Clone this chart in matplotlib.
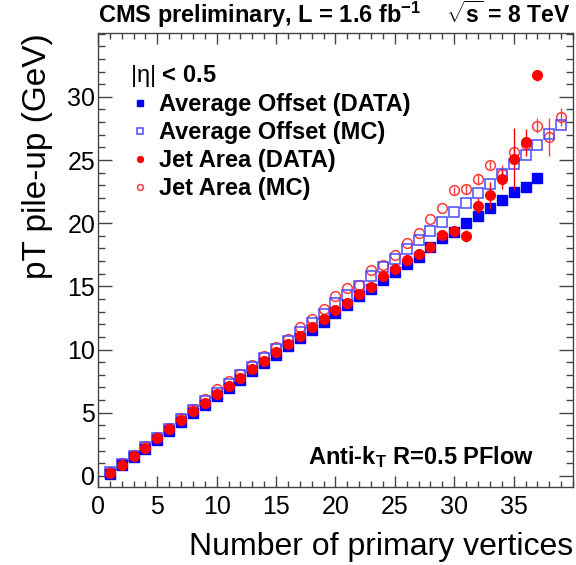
import numpy as np
import matplotlib
matplotlib.use("Agg")
import matplotlib.pyplot as plt
from matplotlib.ticker import MultipleLocator

plt.rcParams['font.family'] = ['Liberation Sans', 'DejaVu Sans']
plt.rcParams['mathtext.fontset'] = 'custom'
plt.rcParams['mathtext.rm'] = 'Liberation Sans'
plt.rcParams['mathtext.bf'] = 'Liberation Sans:bold'
plt.rcParams['mathtext.it'] = 'Liberation Sans:italic'

# number of primary vertices
npv = np.arange(1, 40)

# average offset, data (stops at 37 vertices)
offset_data = [0.15, 0.85, 1.5, 2.15, 2.85, 3.55, 4.3, 5.0, 5.65, 6.3,
               6.95, 7.6, 8.3, 8.95, 9.6, 10.25, 10.9, 11.55, 12.2, 12.9,
               13.5, 14.2, 14.8, 15.5, 16.1, 16.8, 17.35, 18.1, 18.8, 19.3,
               20.0, 20.6, 21.2, 21.8, 22.5, 22.9, 23.6]
# average offset, MC
offset_mc = [0.3, 0.95, 1.6, 2.3, 3.0, 3.75, 4.5, 5.2, 5.9, 6.6,
             7.3, 7.95, 8.65, 9.35, 10.05, 10.7, 11.4, 12.1, 12.85, 13.65,
             14.3, 15.05, 15.8, 16.55, 17.2, 17.95, 18.7, 19.4, 20.1, 20.9,
             21.6, 22.4, 23.1, 23.9, 24.65, 25.4, 26.2, 27.05, 27.8]
# jet area, data
area_data = [0.25, 0.9, 1.56, 2.25, 2.98, 3.7, 4.41, 5.12, 5.78, 6.45,
             7.1, 7.76, 8.45, 9.1, 9.77, 10.43, 11.06, 11.75, 12.4, 13.1,
             13.7, 14.36, 14.97, 15.8, 16.34, 17.08, 17.55, 18.1, 19.1, 19.4,
             19.0, 21.4, 22.2, 23.5, 25.1, 26.4, 31.7]
area_data_err = [0]*29 + [0.25, 0.45, 0.6, 1.05, 0.8, 2.4, 1.05, 0.45]
# jet area, MC
area_mc = [0.35, 1.0, 1.65, 2.35, 3.05, 3.8, 4.55, 5.3, 6.05, 6.85,
           7.5, 8.1, 8.75, 9.5, 10.2, 10.8, 11.75, 12.4, 13.2, 14.2,
           14.9, 15.1, 16.3, 16.7, 17.5, 18.45, 19.25, 20.3, 21.2, 22.6,
           22.7, 23.5, 24.6, 23.9, 25.65, 26.3, 27.7, 26.8, 28.4]
area_mc_err = [0]*29 + [0.3, 0.4, 0.5, 0.3, 0.7, 0.3, 0.3, 0.6, 1.5, 0.7]

fig = plt.figure(figsize=(5.76, 5.65), dpi=100)
ax = fig.add_axes([0.1701, 0.1386, 0.8247, 0.8030])

ms = 7
e_mc = ax.errorbar(npv[:len(area_mc)], area_mc, yerr=area_mc_err, fmt='o',
                   ms=ms, mfc='none', mec='#ff3b3b', mew=1.1,
                   ecolor='#ff3b3b', elinewidth=1, capsize=0, zorder=3)
p_omc, = ax.plot(npv[:len(offset_mc)], offset_mc, 's', ms=ms, mfc='none',
                 mec='#4a4aff', mew=1.1, zorder=4)
p_odata, = ax.plot(npv[:len(offset_data)], offset_data, 's', ms=ms,
                   color='blue', zorder=5)
e_data = ax.errorbar(npv[:len(area_data)], area_data, yerr=area_data_err,
                     fmt='o', ms=ms, color='red', ecolor='red', elinewidth=1,
                     capsize=0, zorder=6)

ax.set_xlim(0, 40)
ax.set_ylim(-0.85, 35.05)
ax.xaxis.set_minor_locator(MultipleLocator(1))
ax.yaxis.set_minor_locator(MultipleLocator(1))
ax.set_yticks(np.arange(0, 35, 5))
ax.set_xticks(np.arange(0, 40, 5))

ax.tick_params(axis='both', which='both', direction='in', top=True,
               right=True, color='#444444', width=1)
ax.tick_params(axis='x', which='major', length=8, labelsize=18, pad=6)
ax.tick_params(axis='x', which='minor', length=4)
ax.tick_params(axis='y', which='major', length=10, labelsize=18, pad=2)
ax.tick_params(axis='y', which='minor', length=5)
for s in ax.spines.values():
    s.set_color('#444444')
    s.set_linewidth(1)

ax.set_xlabel('Number of primary vertices', fontsize=23, loc='right',
              labelpad=9)
ax.set_ylabel('pT pile-up (GeV)', fontsize=24, loc='top', labelpad=10)

ax.text(0.0, 1.022, r'CMS preliminary, L = 1.6 fb$^{\mathbf{-1}}$',
        transform=ax.transAxes, fontsize=17, fontweight='bold',
        ha='left', va='baseline')
ax.text(0.994, 1.022, r'$\mathbf{\sqrt{s}}$ = 8 TeV',
        transform=ax.transAxes, fontsize=16.5, fontweight='bold',
        ha='right', va='baseline')
ax.text(0.067, 0.905, r'$\mathrm{|η|}$ < 0.5', transform=ax.transAxes,
        fontsize=17, fontweight='bold', ha='left', va='center')
ax.text(0.443, 0.066, r'Anti-k$_\mathbf{T}$ R=0.5 PFlow',
        transform=ax.transAxes, fontsize=17, fontweight='bold',
        ha='left', va='center')

hs = [p_odata, p_omc, e_data[0], e_mc[0]]
labels = ['Average Offset (DATA)', 'Average Offset (MC)', 'Jet Area (DATA)',
          'Jet Area (MC)']
leg = ax.legend(hs, labels, loc='upper left', bbox_to_anchor=(0.072, 0.868),
                frameon=False, fontsize=17, markerscale=0.6,
                handlelength=0.7, handletextpad=0.45, borderpad=0,
                labelspacing=0.22, borderaxespad=0)
for t in leg.get_texts():
    t.set_fontweight('bold')

fig.savefig('out.png', dpi=100)
